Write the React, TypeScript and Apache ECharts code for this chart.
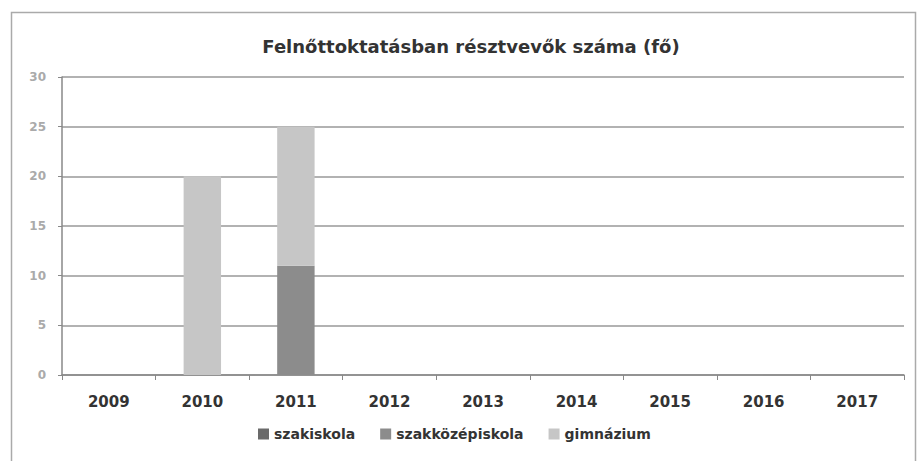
import React, { useEffect, useRef } from "react";
import * as echarts from "echarts";

const years = ["2009", "2010", "2011", "2012", "2013", "2014", "2015", "2016", "2017"];
const szakiskola = [0, 0, 0, 0, 0, 0, 0, 0, 0];
const szakkozepiskola = [0, 0, 11, 0, 0, 0, 0, 0, 0];
const gimnazium = [0, 20, 14, 0, 0, 0, 0, 0, 0];
const yTicks = [0, 5, 10, 15, 20, 25, 30];

const FONT = "DejaVu Sans";

export default function App() {
  const ref = useRef<HTMLDivElement>(null);
  useEffect(() => {
    if (!ref.current) return;
    const chart = echarts.init(ref.current, undefined, { renderer: "svg" });
    const barStyle = (color: string) => ({ color });
    chart.setOption({
      animation: false,
      backgroundColor: "#ffffff",
      title: {
        text: "Felnőttoktatásban résztvevők száma (fő)",
        left: 466,
        top: 32,
        textAlign: "center",
        textStyle: { fontFamily: FONT, fontWeight: "bold", fontSize: 18, color: "#333333" },
      },
      legend: {
        bottom: 15,
        left: 253,
        itemWidth: 11,
        itemHeight: 11,
        itemGap: 25,
        icon: "rect",
        textStyle: { fontFamily: FONT, fontWeight: "bold", fontSize: 14, color: "#333333" },
        data: ["szakiskola", "szakközépiskola", "gimnázium"],
      },
      grid: { left: 62, right: 13, top: 77, bottom: 86, containLabel: false },
      xAxis: {
        type: "category",
        data: years,
        boundaryGap: true,
        axisLine: { lineStyle: { color: "#888888", width: 1.5 } },
        axisTick: { show: true, alignWithLabel: false, length: 5, lineStyle: { color: "#888888" } },
        axisLabel: {
          fontFamily: FONT,
          fontWeight: "bold",
          fontSize: 15,
          color: "#333333",
          margin: 19,
        },
      },
      yAxis: {
        type: "value",
        min: 0,
        max: 30,
        interval: 5,
        axisLine: { show: true, lineStyle: { color: "#888888", width: 1.5 } },
        axisTick: { show: true, length: 4, lineStyle: { color: "#888888" } },
        splitLine: { lineStyle: { color: "#999999", width: 1.5 } },
        axisLabel: {
          fontFamily: FONT,
          fontWeight: "bold",
          fontSize: 12,
          color: "#aaaaaa",
          margin: 16,
          formatter: (v: number) => (yTicks.includes(v) ? String(v) : ""),
        },
      },
      graphic: [
        {
          type: "rect",
          shape: { x: 11.5, y: 12.5, width: 904, height: 470 },
          style: { fill: "none", stroke: "#aaaaaa", lineWidth: 1.5 },
          silent: true,
          z: -1,
        },
      ],
      series: [
        {
          name: "szakiskola",
          type: "bar",
          stack: "total",
          barWidth: "40%",
          data: szakiskola,
          itemStyle: barStyle("#6a6a6a"),
        },
        {
          name: "szakközépiskola",
          type: "bar",
          stack: "total",
          barWidth: "40%",
          data: szakkozepiskola,
          itemStyle: barStyle("#8c8c8c"),
        },
        {
          name: "gimnázium",
          type: "bar",
          stack: "total",
          barWidth: "40%",
          data: gimnazium,
          itemStyle: barStyle("#c6c6c6"),
        },
      ],
    });
    return () => chart.dispose();
  }, []);
  return (
    <div
      ref={ref}
      style={{ position: "fixed", left: 0, top: 0, width: 917, height: 461, background: "#fff" }}
    />
  );
}
